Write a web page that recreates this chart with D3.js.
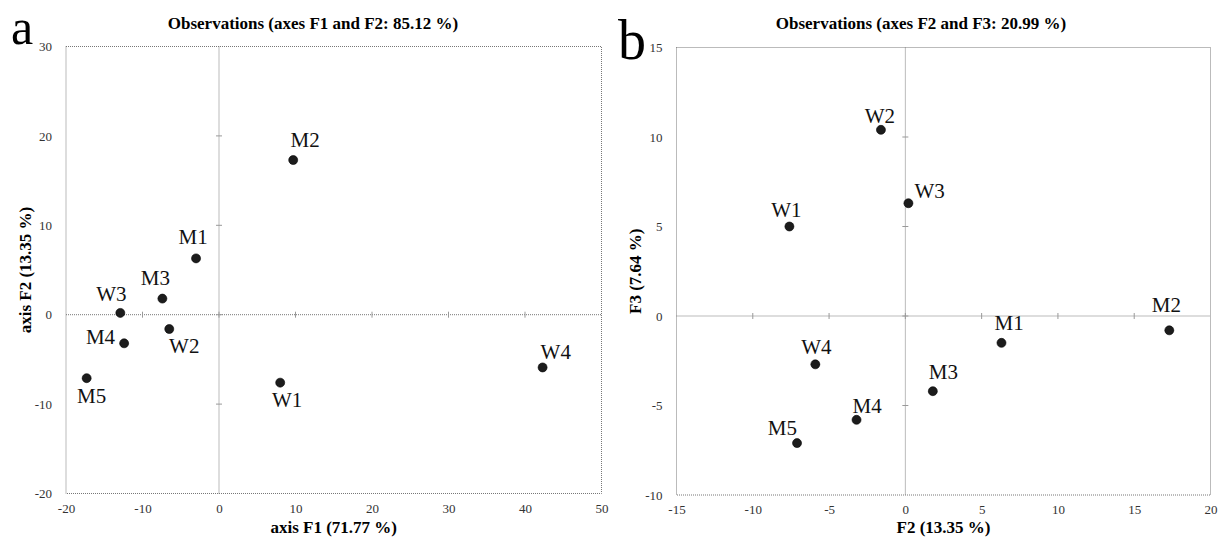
<!DOCTYPE html>
<html>
<head>
<meta charset="utf-8">
<script src="https://cdn.jsdelivr.net/npm/d3@7"></script>
<style>
  body { margin: 0; background: #fff; }
  svg { display: block; }
</style>
</head>
<body>
<div id="chart"></div>
<script>
// observations (PCA scores)
var obsNames = ["M1", "M2", "M3", "M4", "M5", "W1", "W2", "W3", "W4"];
var scoreF1 = [-3.0, 9.7, -7.4, -12.4, -17.3, 8.0, -6.5, -12.9, 42.3];
var scoreF2 = [6.3, 17.3, 1.8, -3.2, -7.1, -7.6, -1.6, 0.2, -5.9];
var scoreF3 = [-1.5, -0.8, -4.2, -5.8, -7.1, 5.0, 10.4, 6.3, -2.7];

// tick labels
var ticksF1a = [-20, -10, 0, 10, 20, 30, 40, 50];
var ticksF2a = [-20, -10, 0, 10, 20, 30];
var ticksF2b = [-15, -10, -5, 0, 5, 10, 15, 20];
var ticksF3b = [-10, -5, 0, 5, 10, 15];

(function(){
    var W = 1218, H = 538;
    var serif = "'Liberation Serif', 'Times New Roman', serif";

    var svg = d3.select("#chart").append("svg")
        .attr("width", W)
        .attr("height", H);

    // label placement next to each dot: [dx, dy, anchor]
    var labelPosA = {
        M1: [-3, -14, "middle"], M2: [12, -13, "middle"], M3: [-7, -14, "middle"],
        M4: [-9, 1, "end"], M5: [5, 25, "middle"], W1: [7, 24, "middle"],
        W2: [15, 24, "middle"], W3: [-9, -12, "middle"], W4: [-2, -8, "start"]
    };
    var labelPosB = {
        M1: [-7, -13, "start"], M2: [-3, -18, "middle"], M3: [-4, -12, "start"],
        M4: [-4, -7, "start"], M5: [0, -8, "end"], W1: [-3, -10, "middle"],
        W2: [-1, -7, "middle"], W3: [6, -5, "start"], W4: [1, -10, "middle"]
    };

    var panels = [
        {
            letter: "a", letterX: 11, letterY: 44, letterSize: 50,
            title: "Observations (axes F1 and F2: 85.12 %)", titleX: 313,
            xTitle: "axis F1 (71.77 %)", yTitle: "axis F2 (13.35 %)", yTitleX: 31,
            xs: scoreF1, ys: scoreF2, xTicks: ticksF1a, yTicks: ticksF2a,
            left: 66, right: 601.5, top: 46.5, bottom: 493.5, labels: labelPosA
        },
        {
            letter: "b", letterX: 618, letterY: 59, letterSize: 56,
            title: "Observations (axes F2 and F3: 20.99 %)", titleX: 921,
            xTitle: "F2 (13.35 %)", yTitle: "F3 (7.64 %)", yTitleX: 641,
            xs: scoreF2, ys: scoreF3, xTicks: ticksF2b, yTicks: ticksF3b,
            left: 676.5, right: 1210.5, top: 47.5, bottom: 495, labels: labelPosB
        }
    ];

    panels.forEach(function(p) {
        var x = d3.scaleLinear()
            .domain(d3.extent(p.xTicks))
            .range([p.left, p.right]);
        var y = d3.scaleLinear()
            .domain(d3.extent(p.yTicks))
            .range([p.bottom, p.top]);
        var g = svg.append("g");

        // dotted frame
        g.append("rect")
            .attr("x", p.left).attr("y", p.top)
            .attr("width", p.right - p.left)
            .attr("height", p.bottom - p.top)
            .attr("fill", "none")
            .attr("stroke", "#777")
            .attr("stroke-width", 1)
            .attr("stroke-dasharray", "1,1");

        // zero lines
        g.append("line")
            .attr("x1", p.left).attr("x2", p.right)
            .attr("y1", y(0)).attr("y2", y(0))
            .attr("stroke", "#777").attr("stroke-dasharray", "1,1");
        g.append("line")
            .attr("x1", x(0)).attr("x2", x(0))
            .attr("y1", p.top).attr("y2", p.bottom)
            .attr("stroke", "#777").attr("stroke-dasharray", "1,1");

        // small crosses on the zero lines
        g.selectAll(".xcross")
            .data(p.xTicks.slice(1, -1))
            .enter().append("line")
            .attr("x1", function(d){ return x(d); })
            .attr("x2", function(d){ return x(d); })
            .attr("y1", y(0) - 3).attr("y2", y(0) + 3)
            .attr("stroke", "#999");
        g.selectAll(".ycross")
            .data(p.yTicks.slice(1, -1))
            .enter().append("line")
            .attr("x1", x(0) - 3).attr("x2", x(0) + 3)
            .attr("y1", function(d){ return y(d); })
            .attr("y2", function(d){ return y(d); })
            .attr("stroke", "#999");

        // axes (labels only)
        var xAxis = g.append("g")
            .attr("transform", "translate(0," + p.bottom + ")")
            .call(d3.axisBottom(x).tickValues(p.xTicks).tickSize(0).tickPadding(10)
                .tickFormat(function(d){ return String(d); }));
        var yAxis = g.append("g")
            .attr("transform", "translate(" + p.left + ",0)")
            .call(d3.axisLeft(y).tickValues(p.yTicks).tickSize(0).tickPadding(14)
                .tickFormat(function(d){ return String(d); }));
        [xAxis, yAxis].forEach(function(a) {
            a.select(".domain").remove();
            a.attr("font-family", serif).attr("font-size", 13);
            a.selectAll("text").attr("fill", "#333");
        });

        // points
        var idx = d3.range(obsNames.length);
        g.selectAll("circle")
            .data(idx)
            .enter().append("circle")
            .attr("cx", function(i){ return x(p.xs[i]); })
            .attr("cy", function(i){ return y(p.ys[i]); })
            .attr("r", 4.5)
            .attr("fill", "#1c1c1c")
            .attr("stroke", "#000")
            .attr("stroke-width", 0.6);

        g.selectAll(".obs")
            .data(idx)
            .enter().append("text")
            .attr("class", "obs")
            .attr("x", function(i){ return x(p.xs[i]) + p.labels[obsNames[i]][0]; })
            .attr("y", function(i){ return y(p.ys[i]) + p.labels[obsNames[i]][1]; })
            .attr("text-anchor", function(i){ return p.labels[obsNames[i]][2]; })
            .attr("font-family", serif)
            .attr("font-size", 21)
            .attr("fill", "#111")
            .text(function(i){ return obsNames[i]; });

        // titles
        g.append("text")
            .attr("x", p.titleX).attr("y", 29)
            .attr("text-anchor", "middle")
            .attr("font-family", serif).attr("font-weight", "bold")
            .attr("font-size", 17)
            .text(p.title);
        g.append("text")
            .attr("x", (p.left + p.right) / 2).attr("y", 533)
            .attr("text-anchor", "middle")
            .attr("font-family", serif).attr("font-weight", "bold")
            .attr("font-size", 17)
            .text(p.xTitle);
        g.append("text")
            .attr("transform", "translate(" + p.yTitleX + "," + ((p.top + p.bottom) / 2) + ") rotate(-90)")
            .attr("text-anchor", "middle")
            .attr("font-family", serif).attr("font-weight", "bold")
            .attr("font-size", 17)
            .text(p.yTitle);

        // panel letter
        g.append("text")
            .attr("x", p.letterX).attr("y", p.letterY)
            .attr("font-family", serif)
            .attr("font-size", p.letterSize)
            .text(p.letter);
    });
})();
</script>
</body>
</html>
